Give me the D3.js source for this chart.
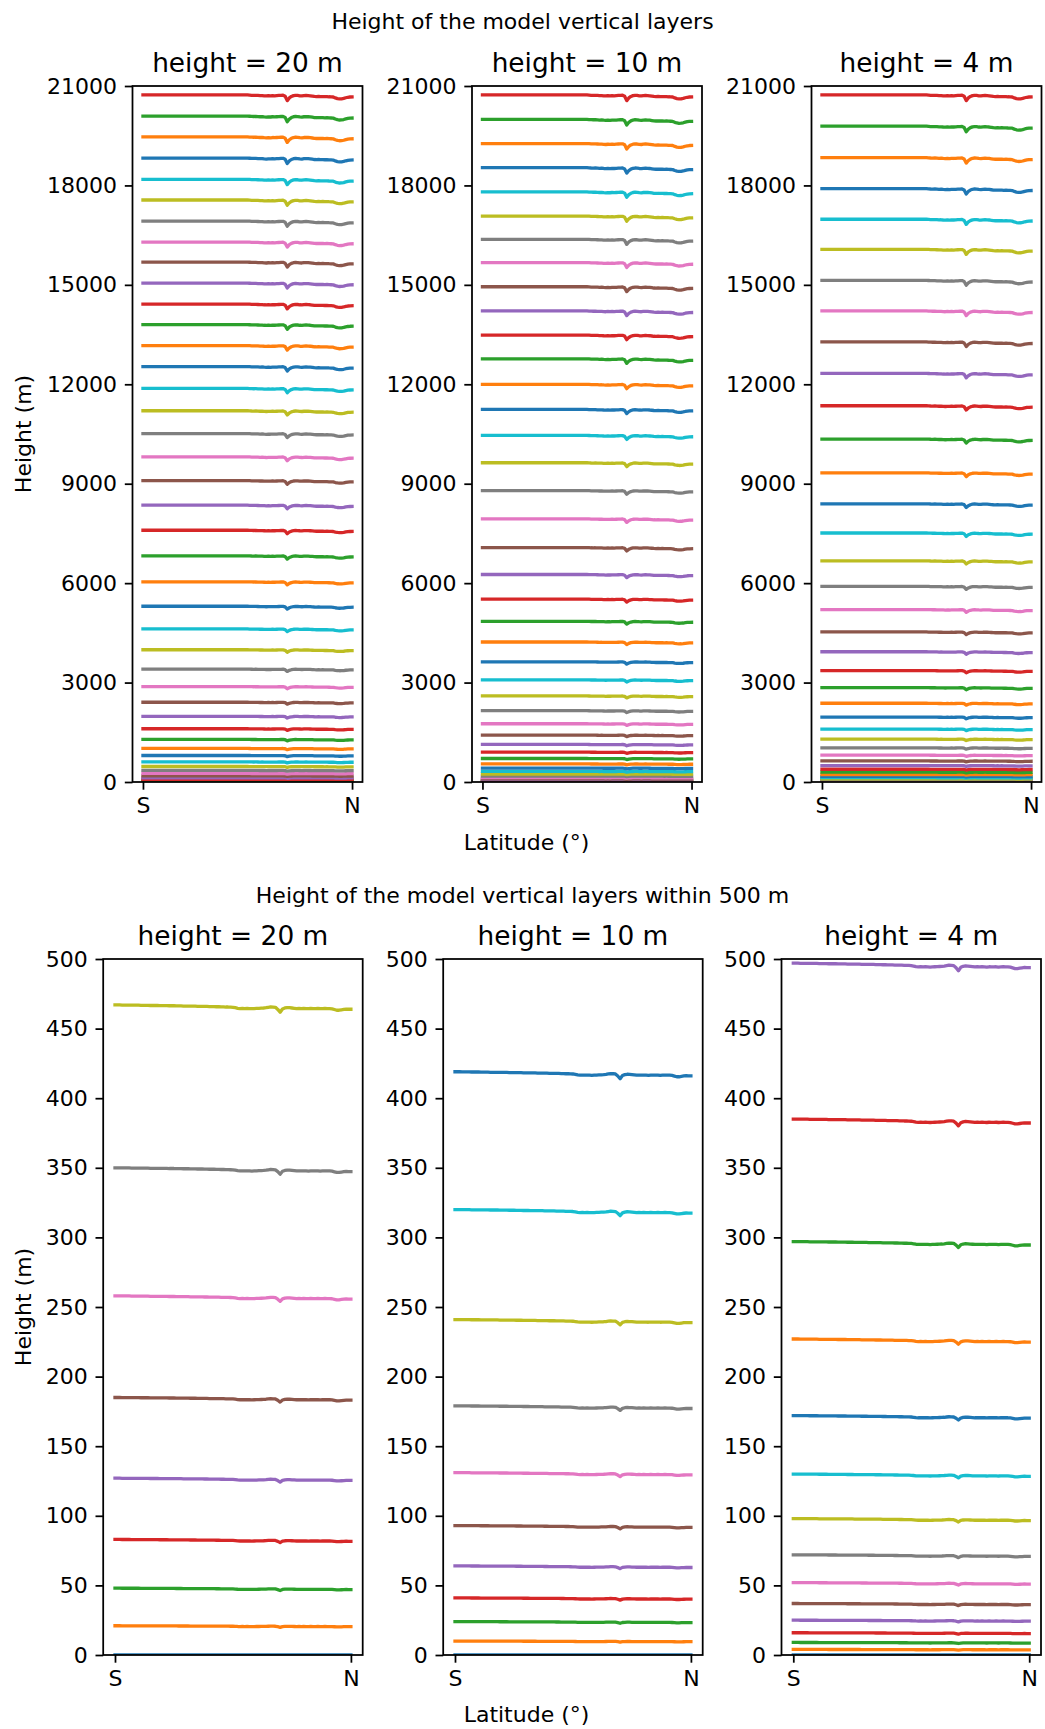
<!DOCTYPE html>
<html>
<head>
<meta charset="utf-8">
<style>
  body { margin: 0; background: #fff; }
  text { font-family: "DejaVu Sans", sans-serif; fill: #000; }
</style>
</head>
<body>
<svg id="chart" width="1045" height="1729"></svg>
<script src="https://cdn.jsdelivr.net/npm/d3@7"></script>
<script>
// panel titles (one per first-layer thickness)
const panelTitles = ["height = 20 m", "height = 10 m", "height = 4 m"]

// layer heights at the southern end (m), bottom layer first
const levels20 = [0, 21, 48, 83, 127, 185, 258, 350, 467, 606, 800, 1012, 1285, 1606, 1982, 2406,
  2879, 3406, 3991, 4618, 5303, 6041, 6825, 7596, 8352, 9095, 9811, 10513, 11201, 11875, 12535,
  13168, 13801, 14420, 15053, 15686, 16292, 16925, 17560, 18185, 18825, 19465, 20092, 20730]
const levels10 = [0, 10, 24, 41, 64, 93, 131, 179, 241, 320, 419, 545, 709, 900, 1133, 1415,
  1757, 2151, 2597, 3082, 3627, 4224, 4848, 5518, 6261, 7073, 7940, 8793, 9632, 10458, 11242,
  11999, 12769, 13485, 14214, 14943, 15673, 16374, 17076, 17805, 18535, 19264, 19993, 20730]
const levels4 = [0, 4, 9, 16, 25, 37, 52, 72, 98, 130, 172, 227, 297, 385, 497, 636, 809, 1030,
  1294, 1597, 1960, 2376, 2848, 3363, 3930, 4527, 5203, 5903, 6674, 7513, 8394, 9329, 10348,
  11352, 12329, 13278, 14214, 15136, 16072, 16980, 17902, 18837, 19787, 20730]
const panelLevels = [levels20, levels10, levels4]

// deviation (m) of the highest layer (~20730 m) along the section, S -> N, 101 samples
const topLineDev = [
  0, 0, 0, 0, 0, 0, 0, 0, 0, 0, 0, 0, 0, 0, 0, 0, 0, 0, 0, 0, 0, 0, 0, 0, 0, 0,
  0, 0, 0, 0, 0, 0, 0, 0, 0, 0, 0, 0, 0, 0, 0, 0, 0, 0, 0, 0, 0, 0, 0, 0, 0,
  -5, -10, -12, -10, -15, -20, -18, -25, -30, -22,
  -28, -20, -25, -20, -15, -12, -8, -40, -172, -90,
  -45, -20, -10, -15, -25, -30, -20, -15, -20, -25,
  -35, -45, -50, -45, -50, -48, -52, -50, -55, -58,
  -62, -90, -110, -120, -118, -105, -85, -70, -62, -60]

// deviation (m) of the 467 m layer along the section, S -> N, 101 samples
const lowLineDev = [
  0, 0, 0, -0.1, -0.1, -0.1, -0.1, -0.2, -0.2, -0.2, -0.2,
  -0.3, -0.3, -0.3, -0.3, -0.4, -0.4, -0.4, -0.4, -0.5, -0.5,
  -0.5, -0.5, -0.6, -0.6, -0.6, -0.7, -0.7, -0.7, -0.8, -0.8,
  -0.8, -0.9, -0.9, -0.9, -1.0, -1.0, -1.0, -1.1, -1.1, -1.2,
  -1.2, -1.2, -1.3, -1.3, -1.4, -1.4, -1.5, -1.5, -1.6, -1.7,
  -2.0, -2.4, -2.6, -2.5, -2.6, -2.5, -2.6, -2.7, -2.6, -2.5,
  -2.4, -2.3, -2.2, -2.0, -1.7, -1.4, -1.5, -1.7, -3.2, -5.3,
  -2.9, -2.2, -1.9, -2.0, -2.2, -2.4, -2.6, -2.5, -2.6, -2.5,
  -2.6, -2.7, -2.5, -2.6, -2.6, -2.5, -2.7, -2.6, -2.5, -2.6,
  -2.6, -2.8, -3.3, -3.8, -3.8, -3.5, -3.2, -3.0, -3.1, -3.1]

const yTicksFull = [0, 3000, 6000, 9000, 12000, 15000, 18000, 21000]
const yTicksLow = [0, 50, 100, 150, 200, 250, 300, 350, 400, 450, 500]
const xTickLabels = ["S", "N"]

const colors = ["#1f77b4", "#ff7f0e", "#2ca02c", "#d62728", "#9467bd",
  "#8c564b", "#e377c2", "#7f7f7f", "#bcbd22", "#17becf"]

// layout of the two figures
const rows = [
  { suptitle: "Height of the model vertical layers", supY: 29,
    top: 86, bottom: 782, lefts: [132.5, 472, 811.5], width: 230,
    yMax: 21000, ticks: yTicksFull, dev: topLineDev, refLevel: 20730, xlabelY: 850 },
  { suptitle: "Height of the model vertical layers within 500 m", supY: 903,
    top: 959, bottom: 1655, lefts: [103.2, 443.2, 781.5], width: 259.5,
    yMax: 500, ticks: yTicksLow, dev: lowLineDev, refLevel: 467, xlabelY: 1722 }
]

const svg = d3.select("#chart")
const lat = d3.range(101).map(i => i / 100)
const tick = 7.7, pad = 7.7, lw = 1.76

rows.forEach((row, r) => {
  svg.append("text")
    .attr("x", 522.5).attr("y", row.supY)
    .attr("text-anchor", "middle").style("font-size", "22px")
    .text(row.suptitle)

  svg.append("text")
    .attr("text-anchor", "middle").style("font-size", "22px")
    .attr("transform", `translate(31,${(row.top + row.bottom) / 2}) rotate(-90)`)
    .text("Height (m)")

  svg.append("text")
    .attr("x", 526.5).attr("y", row.xlabelY)
    .attr("text-anchor", "middle").style("font-size", "22px")
    .text("Latitude (°)")

  panelTitles.forEach((title, p) => {
    let left = row.lefts[p]
    let x = d3.scaleLinear().domain([-0.05, 1.05]).range([left, left + row.width])
    let y = d3.scaleLinear().domain([0, row.yMax]).range([row.bottom, row.top])

    let clipId = `clip-${r}-${p}`
    svg.append("clipPath").attr("id", clipId)
      .append("rect")
      .attr("x", left).attr("y", row.top)
      .attr("width", row.width).attr("height", row.bottom - row.top)

    let series = panelLevels[p].map(level => {
      let w = Math.sqrt(level / row.refLevel)
      return lat.map((f, i) => ({ lat: f, h: level + row.dev[i] * w }))
    })

    let line = d3.line().x(d => x(d.lat)).y(d => y(d.h))

    svg.append("g").attr("clip-path", `url(#${clipId})`)
      .selectAll("path").data(series)
      .enter().append("path")
      .attr("d", d => line(d))
      .attr("fill", "none")
      .attr("stroke", (d, i) => colors[i % 10])
      .attr("stroke-width", 3.3)
      .attr("stroke-linejoin", "round")
      .attr("stroke-linecap", "square")

    // frame
    svg.append("rect")
      .attr("x", left).attr("y", row.top)
      .attr("width", row.width).attr("height", row.bottom - row.top)
      .attr("fill", "none").attr("stroke", "#000").attr("stroke-width", lw)

    let yAxis = svg.append("g")
      .attr("transform", `translate(${left},0)`)
      .call(d3.axisLeft(y).tickValues(row.ticks).tickSize(tick).tickPadding(pad).tickSizeOuter(0)
        .tickFormat(d3.format("d")))
    let xAxis = svg.append("g")
      .attr("transform", `translate(0,${row.bottom})`)
      .call(d3.axisBottom(x).tickValues([0, 1]).tickSize(tick).tickPadding(pad).tickSizeOuter(0)
        .tickFormat(d => xTickLabels[d]))

    for (let ax of [yAxis, xAxis]) {
      ax.select(".domain").remove()
      ax.attr("font-family", null).attr("font-size", null)
      ax.selectAll("line").attr("stroke-width", lw)
      ax.selectAll("text").style("font-size", "22px").attr("fill", "#000")
    }

    svg.append("text")
      .attr("x", left + row.width / 2).attr("y", row.top - 14.3)
      .attr("text-anchor", "middle").style("font-size", "26.4px")
      .text(title)
  })
})
</script>
</body>
</html>
